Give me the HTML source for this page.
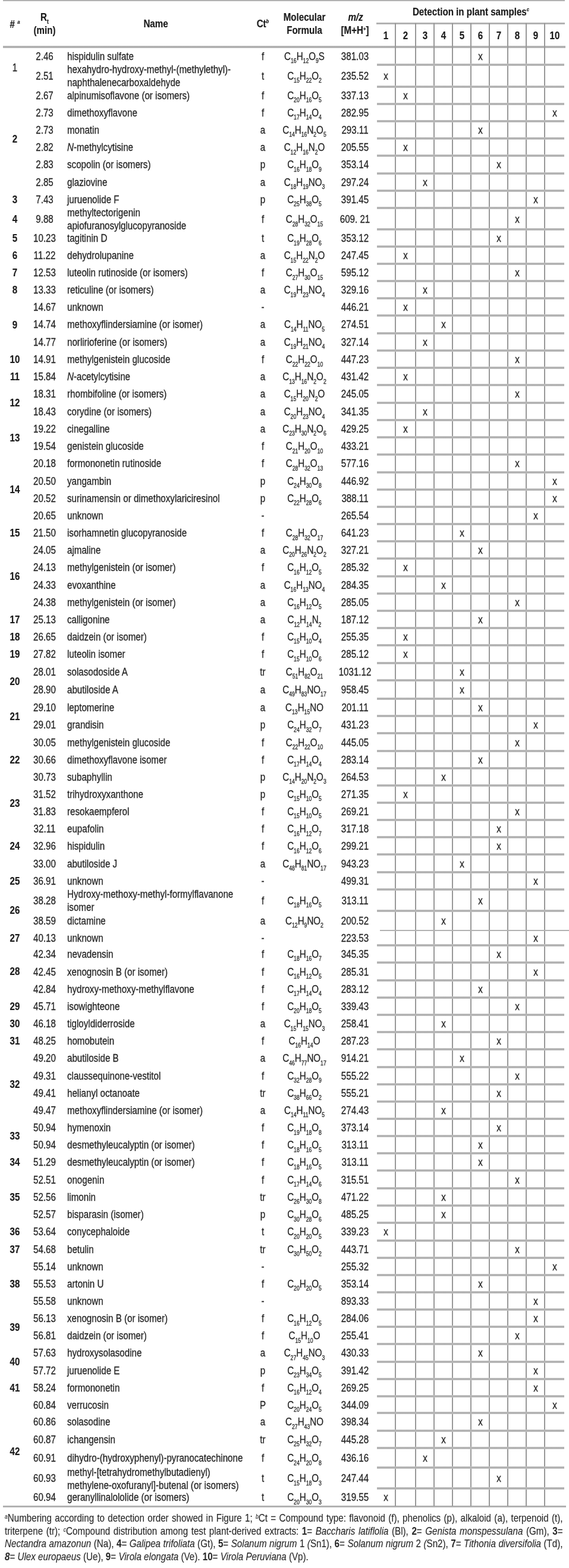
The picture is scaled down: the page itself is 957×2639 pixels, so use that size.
<!DOCTYPE html>
<html lang="en"><head><meta charset="utf-8"><title>Table</title>
<style>
html,body{margin:0;padding:0;background:#fff}
body{width:957px;height:2639px;position:relative;overflow:hidden;font-family:"Liberation Sans",sans-serif;font-size:17.5px;color:#262626;-webkit-text-stroke:0.3px #262626}
.l{position:absolute;background:#b2b2b2}
.h{left:634px;width:314.5px;height:4px;background:linear-gradient(#d2d2d2,#b0b0b0 26%,#b0b0b0 74%,#d2d2d2)}
.v{top:39px;width:2px;height:2496px;background:#989898}
.c,.n,.b{position:absolute;white-space:nowrap;transform:scaleX(0.865)}
.c{text-align:center;transform-origin:50% 50%;width:400px}
.n{text-align:left;transform-origin:0 50%}
.b{font-weight:bold;color:#1c1c1c;-webkit-text-stroke:0.2px #1c1c1c}
sub{font-size:10px;vertical-align:baseline;position:relative;top:5.5px;line-height:0}
sup{font-size:9px;vertical-align:baseline;position:relative;top:-7px;line-height:0;font-style:italic}
.fn{position:absolute;left:7.5px;top:2545px;width:1085.0px;transform:scaleX(0.865);transform-origin:0 0;text-align:justify;font-size:17.55px;line-height:21.7px;color:#2b2b2b;-webkit-text-stroke:0.15px #2b2b2b}
.fn sup{font-size:10px;top:-5px}
.fn div{white-space:nowrap}
.fn .j{text-align:justify;text-align-last:justify}
.fn .e{text-align:left}
.fn b{-webkit-text-stroke:0.1px #262626}
</style></head><body>
<div class="l" style="left:5px;top:0px;width:945px;height:2px"></div>
<div class="l" style="left:5px;top:77px;width:946px;height:4px;background:linear-gradient(#cfcfcf,#adadad 30%,#adadad 70%,#cfcfcf)"></div>
<div class="l" style="left:633px;top:38px;width:317px;height:3px"></div>
<div class="l" style="left:5px;top:2534px;width:947px;height:3px"></div>
<div class="l v" style="left:664px"></div>
<div class="l v" style="left:698px"></div>
<div class="l v" style="left:729px"></div>
<div class="l v" style="left:760px"></div>
<div class="l v" style="left:791px"></div>
<div class="l v" style="left:822px"></div>
<div class="l v" style="left:853px"></div>
<div class="l v" style="left:884px"></div>
<div class="l v" style="left:915px"></div>
<div class="l h" style="top:107px"></div>
<div class="l h" style="top:144px"></div>
<div class="l h" style="top:173px"></div>
<div class="l h" style="top:202px"></div>
<div class="l h" style="top:231px"></div>
<div class="l h" style="top:260px"></div>
<div class="l h" style="top:290px"></div>
<div class="l h" style="top:319px"></div>
<div class="l h" style="top:348px"></div>
<div class="l h" style="top:384px"></div>
<div class="l h" style="top:413px"></div>
<div class="l h" style="top:442px"></div>
<div class="l h" style="top:471px"></div>
<div class="l h" style="top:500px"></div>
<div class="l h" style="top:529px"></div>
<div class="l h" style="top:559px"></div>
<div class="l h" style="top:588px"></div>
<div class="l h" style="top:617px"></div>
<div class="l h" style="top:646px"></div>
<div class="l h" style="top:676px"></div>
<div class="l h" style="top:705px"></div>
<div class="l h" style="top:734px"></div>
<div class="l h" style="top:763px"></div>
<div class="l h" style="top:793px"></div>
<div class="l h" style="top:822px"></div>
<div class="l h" style="top:851px"></div>
<div class="l h" style="top:880px"></div>
<div class="l h" style="top:909px"></div>
<div class="l h" style="top:938px"></div>
<div class="l h" style="top:968px"></div>
<div class="l h" style="top:997px"></div>
<div class="l h" style="top:1026px"></div>
<div class="l h" style="top:1055px"></div>
<div class="l h" style="top:1084px"></div>
<div class="l h" style="top:1114px"></div>
<div class="l h" style="top:1143px"></div>
<div class="l h" style="top:1174px"></div>
<div class="l h" style="top:1203px"></div>
<div class="l h" style="top:1232px"></div>
<div class="l h" style="top:1262px"></div>
<div class="l h" style="top:1291px"></div>
<div class="l h" style="top:1320px"></div>
<div class="l h" style="top:1349px"></div>
<div class="l h" style="top:1378px"></div>
<div class="l h" style="top:1407px"></div>
<div class="l h" style="top:1436px"></div>
<div class="l h" style="top:1466px"></div>
<div class="l h" style="top:1495px"></div>
<div class="l h" style="top:1531px"></div>
<div class="l" style="left:639px;top:1565px;width:318px;height:2px"></div>
<div class="l h" style="top:1589px"></div>
<div class="l h" style="top:1618px"></div>
<div class="l h" style="top:1648px"></div>
<div class="l h" style="top:1677px"></div>
<div class="l h" style="top:1706px"></div>
<div class="l h" style="top:1735px"></div>
<div class="l h" style="top:1764px"></div>
<div class="l h" style="top:1794px"></div>
<div class="l h" style="top:1823px"></div>
<div class="l h" style="top:1852px"></div>
<div class="l h" style="top:1881px"></div>
<div class="l h" style="top:1910px"></div>
<div class="l h" style="top:1939px"></div>
<div class="l h" style="top:1968px"></div>
<div class="l h" style="top:1998px"></div>
<div class="l h" style="top:2027px"></div>
<div class="l h" style="top:2056px"></div>
<div class="l h" style="top:2086px"></div>
<div class="l h" style="top:2115px"></div>
<div class="l h" style="top:2144px"></div>
<div class="l h" style="top:2173px"></div>
<div class="l h" style="top:2202px"></div>
<div class="l h" style="top:2231px"></div>
<div class="l h" style="top:2260px"></div>
<div class="l h" style="top:2290px"></div>
<div class="l h" style="top:2319px"></div>
<div class="l h" style="top:2348px"></div>
<div class="l h" style="top:2376px"></div>
<div class="l h" style="top:2406px"></div>
<div class="l h" style="top:2435px"></div>
<div class="l h" style="top:2468px"></div>
<div class="l h" style="top:2503px"></div>
<div class="c b" style="left:-175.5px;top:30px;height:22px;line-height:22px"># <sup>a</sup></div>
<div class="c b" style="left:-125px;top:17.7px;height:22px;line-height:22px">R<sub>t</sub></div>
<div class="c b" style="left:-125px;top:39.8px;height:22px;line-height:22px">(min)</div>
<div class="c b" style="left:62px;top:29px;height:22px;line-height:22px">Name</div>
<div class="c b" style="left:242px;top:29px;height:22px;line-height:22px">Ct<sup>b</sup></div>
<div class="c b" style="left:312px;top:18px;height:22px;line-height:22px">Molecular</div>
<div class="c b" style="left:312px;top:39.7px;height:22px;line-height:22px">Formula</div>
<div class="c b" style="left:398px;top:18px;height:22px;line-height:22px"><i>m/z</i></div>
<div class="c b" style="left:397px;top:40px;height:22px;line-height:22px">[M+H<sup style="font-style:normal;font-weight:bold;top:-5px;font-size:9px">+</sup>]</div>
<div class="c b" style="left:592px;top:9px;height:22px;line-height:22px">Detection in plant samples<sup>c</sup></div>
<div class="c b" style="left:449px;top:48.7px;height:22px;line-height:22px">1</div>
<div class="c b" style="left:482.2px;top:48.7px;height:22px;line-height:22px">2</div>
<div class="c b" style="left:514.9px;top:48.7px;height:22px;line-height:22px">3</div>
<div class="c b" style="left:545.95px;top:48.7px;height:22px;line-height:22px">4</div>
<div class="c b" style="left:576.95px;top:48.7px;height:22px;line-height:22px">5</div>
<div class="c b" style="left:607.9px;top:48.7px;height:22px;line-height:22px">6</div>
<div class="c b" style="left:638.85px;top:48.7px;height:22px;line-height:22px">7</div>
<div class="c b" style="left:669.65px;top:48.7px;height:22px;line-height:22px">8</div>
<div class="c b" style="left:700.5px;top:48.7px;height:22px;line-height:22px">9</div>
<div class="c b" style="left:733px;top:48.7px;height:22px;line-height:22px">10</div>
<div class="c" style="left:-125.5px;top:79.8px;height:30px;line-height:30px">2.46</div>
<div class="n" style="left:113px;top:79.8px;height:30px;line-height:30px">hispidulin sulfate</div>
<div class="c" style="left:241.5px;top:79.8px;height:30px;line-height:30px">f</div>
<div class="c" style="left:312px;top:79.8px;height:30px;line-height:30px">C<sub>16</sub>H<sub>12</sub>O<sub>9</sub>S</div>
<div class="c" style="left:397px;top:79.8px;height:30px;line-height:30px">381.03</div>
<div class="c" style="left:607.9px;top:79.8px;height:30px;line-height:30px">x</div>
<div class="c" style="left:-125.5px;top:109.8px;height:36.9px;line-height:36.9px">2.51</div>
<div class="n" style="left:113px;top:107.45px;height:43.6px;line-height:21.8px">hexahydro-hydroxy-methyl-(methylethyl)-<br>naphthalenecarboxaldehyde</div>
<div class="c" style="left:241.5px;top:109.8px;height:36.9px;line-height:36.9px">t</div>
<div class="c" style="left:312px;top:109.8px;height:36.9px;line-height:36.9px">C<sub>15</sub>H<sub>22</sub>O<sub>2</sub></div>
<div class="c" style="left:397px;top:109.8px;height:36.9px;line-height:36.9px">235.52</div>
<div class="c" style="left:449px;top:109.8px;height:36.9px;line-height:36.9px">x</div>
<div class="c" style="left:-125.5px;top:146.7px;height:28.9px;line-height:28.9px">2.67</div>
<div class="n" style="left:113px;top:146.7px;height:28.9px;line-height:28.9px">alpinumisoflavone (or isomers)</div>
<div class="c" style="left:241.5px;top:146.7px;height:28.9px;line-height:28.9px">f</div>
<div class="c" style="left:312px;top:146.7px;height:28.9px;line-height:28.9px">C<sub>20</sub>H<sub>16</sub>O<sub>5</sub></div>
<div class="c" style="left:397px;top:146.7px;height:28.9px;line-height:28.9px">337.13</div>
<div class="c" style="left:482.2px;top:146.7px;height:28.9px;line-height:28.9px">x</div>
<div class="c" style="left:-125.5px;top:175.6px;height:28.9px;line-height:28.9px">2.73</div>
<div class="n" style="left:113px;top:175.6px;height:28.9px;line-height:28.9px">dimethoxyflavone</div>
<div class="c" style="left:241.5px;top:175.6px;height:28.9px;line-height:28.9px">f</div>
<div class="c" style="left:312px;top:175.6px;height:28.9px;line-height:28.9px">C<sub>17</sub>H<sub>14</sub>O<sub>4</sub></div>
<div class="c" style="left:397px;top:175.6px;height:28.9px;line-height:28.9px">282.95</div>
<div class="c" style="left:733px;top:175.6px;height:28.9px;line-height:28.9px">x</div>
<div class="c" style="left:-125.5px;top:204.5px;height:29.5px;line-height:29.5px">2.73</div>
<div class="n" style="left:113px;top:204.5px;height:29.5px;line-height:29.5px">monatin</div>
<div class="c" style="left:241.5px;top:204.5px;height:29.5px;line-height:29.5px">a</div>
<div class="c" style="left:312px;top:204.5px;height:29.5px;line-height:29.5px">C<sub>14</sub>H<sub>16</sub>N<sub>2</sub>O<sub>5</sub></div>
<div class="c" style="left:397px;top:204.5px;height:29.5px;line-height:29.5px">293.11</div>
<div class="c" style="left:607.9px;top:204.5px;height:29.5px;line-height:29.5px">x</div>
<div class="c" style="left:-125.5px;top:234px;height:29.4px;line-height:29.4px">2.82</div>
<div class="n" style="left:113px;top:234px;height:29.4px;line-height:29.4px"><i>N</i>-methylcytisine</div>
<div class="c" style="left:241.5px;top:234px;height:29.4px;line-height:29.4px">a</div>
<div class="c" style="left:312px;top:234px;height:29.4px;line-height:29.4px">C<sub>12</sub>H<sub>16</sub>N<sub>2</sub>O</div>
<div class="c" style="left:397px;top:234px;height:29.4px;line-height:29.4px">205.55</div>
<div class="c" style="left:482.2px;top:234px;height:29.4px;line-height:29.4px">x</div>
<div class="c" style="left:-125.5px;top:263.4px;height:29.3px;line-height:29.3px">2.83</div>
<div class="n" style="left:113px;top:263.4px;height:29.3px;line-height:29.3px">scopolin (or isomers)</div>
<div class="c" style="left:241.5px;top:263.4px;height:29.3px;line-height:29.3px">p</div>
<div class="c" style="left:312px;top:263.4px;height:29.3px;line-height:29.3px">C<sub>16</sub>H<sub>18</sub>O<sub>9</sub></div>
<div class="c" style="left:397px;top:263.4px;height:29.3px;line-height:29.3px">353.14</div>
<div class="c" style="left:638.85px;top:263.4px;height:29.3px;line-height:29.3px">x</div>
<div class="c" style="left:-125.5px;top:292.7px;height:29.1px;line-height:29.1px">2.85</div>
<div class="n" style="left:113px;top:292.7px;height:29.1px;line-height:29.1px">glaziovine</div>
<div class="c" style="left:241.5px;top:292.7px;height:29.1px;line-height:29.1px">a</div>
<div class="c" style="left:312px;top:292.7px;height:29.1px;line-height:29.1px">C<sub>18</sub>H<sub>19</sub>NO<sub>3</sub></div>
<div class="c" style="left:397px;top:292.7px;height:29.1px;line-height:29.1px">297.24</div>
<div class="c" style="left:514.9px;top:292.7px;height:29.1px;line-height:29.1px">x</div>
<div class="c" style="left:-125.5px;top:321.8px;height:29.3px;line-height:29.3px">7.43</div>
<div class="n" style="left:113px;top:321.8px;height:29.3px;line-height:29.3px">juruenolide F</div>
<div class="c" style="left:241.5px;top:321.8px;height:29.3px;line-height:29.3px">p</div>
<div class="c" style="left:312px;top:321.8px;height:29.3px;line-height:29.3px">C<sub>25</sub>H<sub>38</sub>O<sub>5</sub></div>
<div class="c" style="left:397px;top:321.8px;height:29.3px;line-height:29.3px">391.45</div>
<div class="c" style="left:700.5px;top:321.8px;height:29.3px;line-height:29.3px">x</div>
<div class="c" style="left:-125.5px;top:351.1px;height:36px;line-height:36px">9.88</div>
<div class="n" style="left:113px;top:348.3px;height:43.6px;line-height:21.8px">methyltectorigenin<br>apiofuranosylglucopyranoside</div>
<div class="c" style="left:241.5px;top:351.1px;height:36px;line-height:36px">f</div>
<div class="c" style="left:312px;top:351.1px;height:36px;line-height:36px">C<sub>28</sub>H<sub>32</sub>O<sub>15</sub></div>
<div class="c" style="left:397px;top:351.1px;height:36px;line-height:36px">609. 21</div>
<div class="c" style="left:669.65px;top:351.1px;height:36px;line-height:36px">x</div>
<div class="c" style="left:-125.5px;top:387.1px;height:28.9px;line-height:28.9px">10.23</div>
<div class="n" style="left:113px;top:387.1px;height:28.9px;line-height:28.9px">tagitinin D</div>
<div class="c" style="left:241.5px;top:387.1px;height:28.9px;line-height:28.9px">t</div>
<div class="c" style="left:312px;top:387.1px;height:28.9px;line-height:28.9px">C<sub>19</sub>H<sub>28</sub>O<sub>6</sub></div>
<div class="c" style="left:397px;top:387.1px;height:28.9px;line-height:28.9px">353.12</div>
<div class="c" style="left:638.85px;top:387.1px;height:28.9px;line-height:28.9px">x</div>
<div class="c" style="left:-125.5px;top:416px;height:29px;line-height:29px">11.22</div>
<div class="n" style="left:113px;top:416px;height:29px;line-height:29px">dehydrolupanine</div>
<div class="c" style="left:241.5px;top:416px;height:29px;line-height:29px">a</div>
<div class="c" style="left:312px;top:416px;height:29px;line-height:29px">C<sub>15</sub>H<sub>22</sub>N<sub>2</sub>O</div>
<div class="c" style="left:397px;top:416px;height:29px;line-height:29px">247.45</div>
<div class="c" style="left:482.2px;top:416px;height:29px;line-height:29px">x</div>
<div class="c" style="left:-125.5px;top:445px;height:29.3px;line-height:29.3px">12.53</div>
<div class="n" style="left:113px;top:445px;height:29.3px;line-height:29.3px">luteolin rutinoside (or isomers)</div>
<div class="c" style="left:241.5px;top:445px;height:29.3px;line-height:29.3px">f</div>
<div class="c" style="left:312px;top:445px;height:29.3px;line-height:29.3px">C<sub>27</sub>H<sub>30</sub>O<sub>15</sub></div>
<div class="c" style="left:397px;top:445px;height:29.3px;line-height:29.3px">595.12</div>
<div class="c" style="left:669.65px;top:445px;height:29.3px;line-height:29.3px">x</div>
<div class="c" style="left:-125.5px;top:474.3px;height:28.9px;line-height:28.9px">13.33</div>
<div class="n" style="left:113px;top:474.3px;height:28.9px;line-height:28.9px">reticuline (or isomers)</div>
<div class="c" style="left:241.5px;top:474.3px;height:28.9px;line-height:28.9px">a</div>
<div class="c" style="left:312px;top:474.3px;height:28.9px;line-height:28.9px">C<sub>19</sub>H<sub>23</sub>NO<sub>4</sub></div>
<div class="c" style="left:397px;top:474.3px;height:28.9px;line-height:28.9px">329.16</div>
<div class="c" style="left:514.9px;top:474.3px;height:28.9px;line-height:28.9px">x</div>
<div class="c" style="left:-125.5px;top:503.2px;height:29.1px;line-height:29.1px">14.67</div>
<div class="n" style="left:113px;top:503.2px;height:29.1px;line-height:29.1px">unknown</div>
<div class="c" style="left:241.5px;top:503.2px;height:29.1px;line-height:29.1px">-</div>
<div class="c" style="left:397px;top:503.2px;height:29.1px;line-height:29.1px">446.21</div>
<div class="c" style="left:482.2px;top:503.2px;height:29.1px;line-height:29.1px">x</div>
<div class="c" style="left:-125.5px;top:532.3px;height:29.3px;line-height:29.3px">14.74</div>
<div class="n" style="left:113px;top:532.3px;height:29.3px;line-height:29.3px">methoxyflindersiamine (or isomer)</div>
<div class="c" style="left:241.5px;top:532.3px;height:29.3px;line-height:29.3px">a</div>
<div class="c" style="left:312px;top:532.3px;height:29.3px;line-height:29.3px">C<sub>14</sub>H<sub>11</sub>NO<sub>5</sub></div>
<div class="c" style="left:397px;top:532.3px;height:29.3px;line-height:29.3px">274.51</div>
<div class="c" style="left:545.95px;top:532.3px;height:29.3px;line-height:29.3px">x</div>
<div class="c" style="left:-125.5px;top:561.6px;height:29.6px;line-height:29.6px">14.77</div>
<div class="n" style="left:113px;top:561.6px;height:29.6px;line-height:29.6px">norlirioferine (or isomers)</div>
<div class="c" style="left:241.5px;top:561.6px;height:29.6px;line-height:29.6px">a</div>
<div class="c" style="left:312px;top:561.6px;height:29.6px;line-height:29.6px">C<sub>19</sub>H<sub>21</sub>NO<sub>4</sub></div>
<div class="c" style="left:397px;top:561.6px;height:29.6px;line-height:29.6px">327.14</div>
<div class="c" style="left:514.9px;top:561.6px;height:29.6px;line-height:29.6px">x</div>
<div class="c" style="left:-125.5px;top:591.2px;height:28.9px;line-height:28.9px">14.91</div>
<div class="n" style="left:113px;top:591.2px;height:28.9px;line-height:28.9px">methylgenistein glucoside</div>
<div class="c" style="left:241.5px;top:591.2px;height:28.9px;line-height:28.9px">f</div>
<div class="c" style="left:312px;top:591.2px;height:28.9px;line-height:28.9px">C<sub>22</sub>H<sub>22</sub>O<sub>10</sub></div>
<div class="c" style="left:397px;top:591.2px;height:28.9px;line-height:28.9px">447.23</div>
<div class="c" style="left:669.65px;top:591.2px;height:28.9px;line-height:28.9px">x</div>
<div class="c" style="left:-125.5px;top:620.1px;height:29.3px;line-height:29.3px">15.84</div>
<div class="n" style="left:113px;top:620.1px;height:29.3px;line-height:29.3px"><i>N</i>-acetylcytisine</div>
<div class="c" style="left:241.5px;top:620.1px;height:29.3px;line-height:29.3px">a</div>
<div class="c" style="left:312px;top:620.1px;height:29.3px;line-height:29.3px">C<sub>13</sub>H<sub>16</sub>N<sub>2</sub>O<sub>2</sub></div>
<div class="c" style="left:397px;top:620.1px;height:29.3px;line-height:29.3px">431.42</div>
<div class="c" style="left:482.2px;top:620.1px;height:29.3px;line-height:29.3px">x</div>
<div class="c" style="left:-125.5px;top:649.4px;height:29.6px;line-height:29.6px">18.31</div>
<div class="n" style="left:113px;top:649.4px;height:29.6px;line-height:29.6px">rhombifoline (or isomers)</div>
<div class="c" style="left:241.5px;top:649.4px;height:29.6px;line-height:29.6px">a</div>
<div class="c" style="left:312px;top:649.4px;height:29.6px;line-height:29.6px">C<sub>15</sub>H<sub>20</sub>N<sub>2</sub>O</div>
<div class="c" style="left:397px;top:649.4px;height:29.6px;line-height:29.6px">245.05</div>
<div class="c" style="left:669.65px;top:649.4px;height:29.6px;line-height:29.6px">x</div>
<div class="c" style="left:-125.5px;top:679px;height:28.9px;line-height:28.9px">18.43</div>
<div class="n" style="left:113px;top:679px;height:28.9px;line-height:28.9px">corydine (or isomers)</div>
<div class="c" style="left:241.5px;top:679px;height:28.9px;line-height:28.9px">a</div>
<div class="c" style="left:312px;top:679px;height:28.9px;line-height:28.9px">C<sub>20</sub>H<sub>23</sub>NO<sub>4</sub></div>
<div class="c" style="left:397px;top:679px;height:28.9px;line-height:28.9px">341.35</div>
<div class="c" style="left:514.9px;top:679px;height:28.9px;line-height:28.9px">x</div>
<div class="c" style="left:-125.5px;top:707.9px;height:29.3px;line-height:29.3px">19.22</div>
<div class="n" style="left:113px;top:707.9px;height:29.3px;line-height:29.3px">cinegalline</div>
<div class="c" style="left:241.5px;top:707.9px;height:29.3px;line-height:29.3px">a</div>
<div class="c" style="left:312px;top:707.9px;height:29.3px;line-height:29.3px">C<sub>23</sub>H<sub>30</sub>N<sub>2</sub>O<sub>6</sub></div>
<div class="c" style="left:397px;top:707.9px;height:29.3px;line-height:29.3px">429.25</div>
<div class="c" style="left:482.2px;top:707.9px;height:29.3px;line-height:29.3px">x</div>
<div class="c" style="left:-125.5px;top:737.2px;height:28.9px;line-height:28.9px">19.54</div>
<div class="n" style="left:113px;top:737.2px;height:28.9px;line-height:28.9px">genistein glucoside</div>
<div class="c" style="left:241.5px;top:737.2px;height:28.9px;line-height:28.9px">f</div>
<div class="c" style="left:312px;top:737.2px;height:28.9px;line-height:28.9px">C<sub>21</sub>H<sub>20</sub>O<sub>10</sub></div>
<div class="c" style="left:397px;top:737.2px;height:28.9px;line-height:28.9px">433.21</div>
<div class="c" style="left:-125.5px;top:766.1px;height:29.6px;line-height:29.6px">20.18</div>
<div class="n" style="left:113px;top:766.1px;height:29.6px;line-height:29.6px">formononetin rutinoside</div>
<div class="c" style="left:241.5px;top:766.1px;height:29.6px;line-height:29.6px">f</div>
<div class="c" style="left:312px;top:766.1px;height:29.6px;line-height:29.6px">C<sub>28</sub>H<sub>32</sub>O<sub>13</sub></div>
<div class="c" style="left:397px;top:766.1px;height:29.6px;line-height:29.6px">577.16</div>
<div class="c" style="left:669.65px;top:766.1px;height:29.6px;line-height:29.6px">x</div>
<div class="c" style="left:-125.5px;top:795.7px;height:28.9px;line-height:28.9px">20.50</div>
<div class="n" style="left:113px;top:795.7px;height:28.9px;line-height:28.9px">yangambin</div>
<div class="c" style="left:241.5px;top:795.7px;height:28.9px;line-height:28.9px">p</div>
<div class="c" style="left:312px;top:795.7px;height:28.9px;line-height:28.9px">C<sub>24</sub>H<sub>30</sub>O<sub>8</sub></div>
<div class="c" style="left:397px;top:795.7px;height:28.9px;line-height:28.9px">446.92</div>
<div class="c" style="left:733px;top:795.7px;height:28.9px;line-height:28.9px">x</div>
<div class="c" style="left:-125.5px;top:824.6px;height:29.3px;line-height:29.3px">20.52</div>
<div class="n" style="left:113px;top:824.6px;height:29.3px;line-height:29.3px">surinamensin or dimethoxylariciresinol</div>
<div class="c" style="left:241.5px;top:824.6px;height:29.3px;line-height:29.3px">p</div>
<div class="c" style="left:312px;top:824.6px;height:29.3px;line-height:29.3px">C<sub>22</sub>H<sub>28</sub>O<sub>6</sub></div>
<div class="c" style="left:397px;top:824.6px;height:29.3px;line-height:29.3px">388.11</div>
<div class="c" style="left:733px;top:824.6px;height:29.3px;line-height:29.3px">x</div>
<div class="c" style="left:-125.5px;top:853.9px;height:29.1px;line-height:29.1px">20.65</div>
<div class="n" style="left:113px;top:853.9px;height:29.1px;line-height:29.1px">unknown</div>
<div class="c" style="left:241.5px;top:853.9px;height:29.1px;line-height:29.1px">-</div>
<div class="c" style="left:397px;top:853.9px;height:29.1px;line-height:29.1px">265.54</div>
<div class="c" style="left:700.5px;top:853.9px;height:29.1px;line-height:29.1px">x</div>
<div class="c" style="left:-125.5px;top:883px;height:28.7px;line-height:28.7px">21.50</div>
<div class="n" style="left:113px;top:883px;height:28.7px;line-height:28.7px">isorhamnetin glucopyranoside</div>
<div class="c" style="left:241.5px;top:883px;height:28.7px;line-height:28.7px">f</div>
<div class="c" style="left:312px;top:883px;height:28.7px;line-height:28.7px">C<sub>28</sub>H<sub>32</sub>O<sub>17</sub></div>
<div class="c" style="left:397px;top:883px;height:28.7px;line-height:28.7px">641.23</div>
<div class="c" style="left:576.95px;top:883px;height:28.7px;line-height:28.7px">x</div>
<div class="c" style="left:-125.5px;top:911.7px;height:29.5px;line-height:29.5px">24.05</div>
<div class="n" style="left:113px;top:911.7px;height:29.5px;line-height:29.5px">ajmaline</div>
<div class="c" style="left:241.5px;top:911.7px;height:29.5px;line-height:29.5px">a</div>
<div class="c" style="left:312px;top:911.7px;height:29.5px;line-height:29.5px">C<sub>20</sub>H<sub>26</sub>N<sub>2</sub>O<sub>2</sub></div>
<div class="c" style="left:397px;top:911.7px;height:29.5px;line-height:29.5px">327.21</div>
<div class="c" style="left:607.9px;top:911.7px;height:29.5px;line-height:29.5px">x</div>
<div class="c" style="left:-125.5px;top:941.2px;height:29.4px;line-height:29.4px">24.13</div>
<div class="n" style="left:113px;top:941.2px;height:29.4px;line-height:29.4px">methylgenistein (or isomer)</div>
<div class="c" style="left:241.5px;top:941.2px;height:29.4px;line-height:29.4px">f</div>
<div class="c" style="left:312px;top:941.2px;height:29.4px;line-height:29.4px">C<sub>16</sub>H<sub>12</sub>O<sub>5</sub></div>
<div class="c" style="left:397px;top:941.2px;height:29.4px;line-height:29.4px">285.32</div>
<div class="c" style="left:482.2px;top:941.2px;height:29.4px;line-height:29.4px">x</div>
<div class="c" style="left:-125.5px;top:970.6px;height:29.3px;line-height:29.3px">24.33</div>
<div class="n" style="left:113px;top:970.6px;height:29.3px;line-height:29.3px">evoxanthine</div>
<div class="c" style="left:241.5px;top:970.6px;height:29.3px;line-height:29.3px">a</div>
<div class="c" style="left:312px;top:970.6px;height:29.3px;line-height:29.3px">C<sub>16</sub>H<sub>13</sub>NO<sub>4</sub></div>
<div class="c" style="left:397px;top:970.6px;height:29.3px;line-height:29.3px">284.35</div>
<div class="c" style="left:545.95px;top:970.6px;height:29.3px;line-height:29.3px">x</div>
<div class="c" style="left:-125.5px;top:999.9px;height:29.1px;line-height:29.1px">24.38</div>
<div class="n" style="left:113px;top:999.9px;height:29.1px;line-height:29.1px">methylgenistein (or isomer)</div>
<div class="c" style="left:241.5px;top:999.9px;height:29.1px;line-height:29.1px">a</div>
<div class="c" style="left:312px;top:999.9px;height:29.1px;line-height:29.1px">C<sub>16</sub>H<sub>12</sub>O<sub>5</sub></div>
<div class="c" style="left:397px;top:999.9px;height:29.1px;line-height:29.1px">285.05</div>
<div class="c" style="left:669.65px;top:999.9px;height:29.1px;line-height:29.1px">x</div>
<div class="c" style="left:-125.5px;top:1029px;height:28.9px;line-height:28.9px">25.13</div>
<div class="n" style="left:113px;top:1029px;height:28.9px;line-height:28.9px">calligonine</div>
<div class="c" style="left:241.5px;top:1029px;height:28.9px;line-height:28.9px">a</div>
<div class="c" style="left:312px;top:1029px;height:28.9px;line-height:28.9px">C<sub>12</sub>H<sub>14</sub>N<sub>2</sub></div>
<div class="c" style="left:397px;top:1029px;height:28.9px;line-height:28.9px">187.12</div>
<div class="c" style="left:607.9px;top:1029px;height:28.9px;line-height:28.9px">x</div>
<div class="c" style="left:-125.5px;top:1057.9px;height:29.4px;line-height:29.4px">26.65</div>
<div class="n" style="left:113px;top:1057.9px;height:29.4px;line-height:29.4px">daidzein (or isomer)</div>
<div class="c" style="left:241.5px;top:1057.9px;height:29.4px;line-height:29.4px">f</div>
<div class="c" style="left:312px;top:1057.9px;height:29.4px;line-height:29.4px">C<sub>15</sub>H<sub>10</sub>O<sub>4</sub></div>
<div class="c" style="left:397px;top:1057.9px;height:29.4px;line-height:29.4px">255.35</div>
<div class="c" style="left:482.2px;top:1057.9px;height:29.4px;line-height:29.4px">x</div>
<div class="c" style="left:-125.5px;top:1087.3px;height:29.3px;line-height:29.3px">27.82</div>
<div class="n" style="left:113px;top:1087.3px;height:29.3px;line-height:29.3px">luteolin isomer</div>
<div class="c" style="left:241.5px;top:1087.3px;height:29.3px;line-height:29.3px">f</div>
<div class="c" style="left:312px;top:1087.3px;height:29.3px;line-height:29.3px">C<sub>15</sub>H<sub>10</sub>O<sub>6</sub></div>
<div class="c" style="left:397px;top:1087.3px;height:29.3px;line-height:29.3px">285.12</div>
<div class="c" style="left:482.2px;top:1087.3px;height:29.3px;line-height:29.3px">x</div>
<div class="c" style="left:-125.5px;top:1116.6px;height:29.1px;line-height:29.1px">28.01</div>
<div class="n" style="left:113px;top:1116.6px;height:29.1px;line-height:29.1px">solasodoside A</div>
<div class="c" style="left:241.5px;top:1116.6px;height:29.1px;line-height:29.1px">tr</div>
<div class="c" style="left:312px;top:1116.6px;height:29.1px;line-height:29.1px">C<sub>51</sub>H<sub>82</sub>O<sub>21</sub></div>
<div class="c" style="left:397px;top:1116.6px;height:29.1px;line-height:29.1px">1031.12</div>
<div class="c" style="left:576.95px;top:1116.6px;height:29.1px;line-height:29.1px">x</div>
<div class="c" style="left:-125.5px;top:1145.7px;height:31.1px;line-height:31.1px">28.90</div>
<div class="n" style="left:113px;top:1145.7px;height:31.1px;line-height:31.1px">abutiloside A</div>
<div class="c" style="left:241.5px;top:1145.7px;height:31.1px;line-height:31.1px">a</div>
<div class="c" style="left:312px;top:1145.7px;height:31.1px;line-height:31.1px">C<sub>49</sub>H<sub>83</sub>NO<sub>17</sub></div>
<div class="c" style="left:397px;top:1145.7px;height:31.1px;line-height:31.1px">958.45</div>
<div class="c" style="left:576.95px;top:1145.7px;height:31.1px;line-height:31.1px">x</div>
<div class="c" style="left:-125.5px;top:1176.8px;height:29.3px;line-height:29.3px">29.10</div>
<div class="n" style="left:113px;top:1176.8px;height:29.3px;line-height:29.3px">leptomerine</div>
<div class="c" style="left:241.5px;top:1176.8px;height:29.3px;line-height:29.3px">a</div>
<div class="c" style="left:312px;top:1176.8px;height:29.3px;line-height:29.3px">C<sub>13</sub>H<sub>15</sub>NO</div>
<div class="c" style="left:397px;top:1176.8px;height:29.3px;line-height:29.3px">201.11</div>
<div class="c" style="left:607.9px;top:1176.8px;height:29.3px;line-height:29.3px">x</div>
<div class="c" style="left:-125.5px;top:1206.1px;height:29.4px;line-height:29.4px">29.01</div>
<div class="n" style="left:113px;top:1206.1px;height:29.4px;line-height:29.4px">grandisin</div>
<div class="c" style="left:241.5px;top:1206.1px;height:29.4px;line-height:29.4px">p</div>
<div class="c" style="left:312px;top:1206.1px;height:29.4px;line-height:29.4px">C<sub>24</sub>H<sub>32</sub>O<sub>7</sub></div>
<div class="c" style="left:397px;top:1206.1px;height:29.4px;line-height:29.4px">431.23</div>
<div class="c" style="left:700.5px;top:1206.1px;height:29.4px;line-height:29.4px">x</div>
<div class="c" style="left:-125.5px;top:1235.5px;height:29.1px;line-height:29.1px">30.05</div>
<div class="n" style="left:113px;top:1235.5px;height:29.1px;line-height:29.1px">methylgenistein glucoside</div>
<div class="c" style="left:241.5px;top:1235.5px;height:29.1px;line-height:29.1px">f</div>
<div class="c" style="left:312px;top:1235.5px;height:29.1px;line-height:29.1px">C<sub>22</sub>H<sub>22</sub>O<sub>10</sub></div>
<div class="c" style="left:397px;top:1235.5px;height:29.1px;line-height:29.1px">445.05</div>
<div class="c" style="left:669.65px;top:1235.5px;height:29.1px;line-height:29.1px">x</div>
<div class="c" style="left:-125.5px;top:1264.6px;height:29px;line-height:29px">30.66</div>
<div class="n" style="left:113px;top:1264.6px;height:29px;line-height:29px">dimethoxyflavone isomer</div>
<div class="c" style="left:241.5px;top:1264.6px;height:29px;line-height:29px">f</div>
<div class="c" style="left:312px;top:1264.6px;height:29px;line-height:29px">C<sub>17</sub>H<sub>14</sub>O<sub>4</sub></div>
<div class="c" style="left:397px;top:1264.6px;height:29px;line-height:29px">283.14</div>
<div class="c" style="left:607.9px;top:1264.6px;height:29px;line-height:29px">x</div>
<div class="c" style="left:-125.5px;top:1293.6px;height:29.2px;line-height:29.2px">30.73</div>
<div class="n" style="left:113px;top:1293.6px;height:29.2px;line-height:29.2px">subaphyllin</div>
<div class="c" style="left:241.5px;top:1293.6px;height:29.2px;line-height:29.2px">p</div>
<div class="c" style="left:312px;top:1293.6px;height:29.2px;line-height:29.2px">C<sub>14</sub>H<sub>20</sub>N<sub>2</sub>O<sub>3</sub></div>
<div class="c" style="left:397px;top:1293.6px;height:29.2px;line-height:29.2px">264.53</div>
<div class="c" style="left:545.95px;top:1293.6px;height:29.2px;line-height:29.2px">x</div>
<div class="c" style="left:-125.5px;top:1322.8px;height:28.9px;line-height:28.9px">31.52</div>
<div class="n" style="left:113px;top:1322.8px;height:28.9px;line-height:28.9px">trihydroxyxanthone</div>
<div class="c" style="left:241.5px;top:1322.8px;height:28.9px;line-height:28.9px">p</div>
<div class="c" style="left:312px;top:1322.8px;height:28.9px;line-height:28.9px">C<sub>15</sub>H<sub>10</sub>O<sub>5</sub></div>
<div class="c" style="left:397px;top:1322.8px;height:28.9px;line-height:28.9px">271.35</div>
<div class="c" style="left:482.2px;top:1322.8px;height:28.9px;line-height:28.9px">x</div>
<div class="c" style="left:-125.5px;top:1351.7px;height:29.3px;line-height:29.3px">31.83</div>
<div class="n" style="left:113px;top:1351.7px;height:29.3px;line-height:29.3px">resokaempferol</div>
<div class="c" style="left:241.5px;top:1351.7px;height:29.3px;line-height:29.3px">f</div>
<div class="c" style="left:312px;top:1351.7px;height:29.3px;line-height:29.3px">C<sub>15</sub>H<sub>10</sub>O<sub>5</sub></div>
<div class="c" style="left:397px;top:1351.7px;height:29.3px;line-height:29.3px">269.21</div>
<div class="c" style="left:669.65px;top:1351.7px;height:29.3px;line-height:29.3px">x</div>
<div class="c" style="left:-125.5px;top:1381px;height:29.1px;line-height:29.1px">32.11</div>
<div class="n" style="left:113px;top:1381px;height:29.1px;line-height:29.1px">eupafolin</div>
<div class="c" style="left:241.5px;top:1381px;height:29.1px;line-height:29.1px">f</div>
<div class="c" style="left:312px;top:1381px;height:29.1px;line-height:29.1px">C<sub>16</sub>H<sub>12</sub>O<sub>7</sub></div>
<div class="c" style="left:397px;top:1381px;height:29.1px;line-height:29.1px">317.18</div>
<div class="c" style="left:638.85px;top:1381px;height:29.1px;line-height:29.1px">x</div>
<div class="c" style="left:-125.5px;top:1410.1px;height:29.4px;line-height:29.4px">32.96</div>
<div class="n" style="left:113px;top:1410.1px;height:29.4px;line-height:29.4px">hispidulin</div>
<div class="c" style="left:241.5px;top:1410.1px;height:29.4px;line-height:29.4px">f</div>
<div class="c" style="left:312px;top:1410.1px;height:29.4px;line-height:29.4px">C<sub>16</sub>H<sub>12</sub>O<sub>6</sub></div>
<div class="c" style="left:397px;top:1410.1px;height:29.4px;line-height:29.4px">299.21</div>
<div class="c" style="left:638.85px;top:1410.1px;height:29.4px;line-height:29.4px">x</div>
<div class="c" style="left:-125.5px;top:1439.5px;height:29.3px;line-height:29.3px">33.00</div>
<div class="n" style="left:113px;top:1439.5px;height:29.3px;line-height:29.3px">abutiloside J</div>
<div class="c" style="left:241.5px;top:1439.5px;height:29.3px;line-height:29.3px">a</div>
<div class="c" style="left:312px;top:1439.5px;height:29.3px;line-height:29.3px">C<sub>48</sub>H<sub>81</sub>NO<sub>17</sub></div>
<div class="c" style="left:397px;top:1439.5px;height:29.3px;line-height:29.3px">943.23</div>
<div class="c" style="left:576.95px;top:1439.5px;height:29.3px;line-height:29.3px">x</div>
<div class="c" style="left:-125.5px;top:1468.8px;height:28.9px;line-height:28.9px">36.91</div>
<div class="n" style="left:113px;top:1468.8px;height:28.9px;line-height:28.9px">unknown</div>
<div class="c" style="left:241.5px;top:1468.8px;height:28.9px;line-height:28.9px">-</div>
<div class="c" style="left:397px;top:1468.8px;height:28.9px;line-height:28.9px">499.31</div>
<div class="c" style="left:700.5px;top:1468.8px;height:28.9px;line-height:28.9px">x</div>
<div class="c" style="left:-125.5px;top:1497.7px;height:36px;line-height:36px">38.28</div>
<div class="n" style="left:113px;top:1494.9px;height:43.6px;line-height:21.8px">Hydroxy-methoxy-methyl-formylflavanone<br>isomer</div>
<div class="c" style="left:241.5px;top:1497.7px;height:36px;line-height:36px">f</div>
<div class="c" style="left:312px;top:1497.7px;height:36px;line-height:36px">C<sub>18</sub>H<sub>16</sub>O<sub>5</sub></div>
<div class="c" style="left:397px;top:1497.7px;height:36px;line-height:36px">313.11</div>
<div class="c" style="left:607.9px;top:1497.7px;height:36px;line-height:36px">x</div>
<div class="c" style="left:-125.5px;top:1533.7px;height:33.2px;line-height:33.2px">38.59</div>
<div class="n" style="left:113px;top:1533.7px;height:33.2px;line-height:33.2px">dictamine</div>
<div class="c" style="left:241.5px;top:1533.7px;height:33.2px;line-height:33.2px">a</div>
<div class="c" style="left:312px;top:1533.7px;height:33.2px;line-height:33.2px">C<sub>12</sub>H<sub>9</sub>NO<sub>2</sub></div>
<div class="c" style="left:397px;top:1533.7px;height:33.2px;line-height:33.2px">200.52</div>
<div class="c" style="left:545.95px;top:1533.7px;height:33.2px;line-height:33.2px">x</div>
<div class="c" style="left:-125.5px;top:1566.9px;height:25px;line-height:25px">40.13</div>
<div class="n" style="left:113px;top:1566.9px;height:25px;line-height:25px">unknown</div>
<div class="c" style="left:241.5px;top:1566.9px;height:25px;line-height:25px">-</div>
<div class="c" style="left:397px;top:1566.9px;height:25px;line-height:25px">223.53</div>
<div class="c" style="left:700.5px;top:1566.9px;height:25px;line-height:25px">x</div>
<div class="c" style="left:-125.5px;top:1591.9px;height:29.6px;line-height:29.6px">42.34</div>
<div class="n" style="left:113px;top:1591.9px;height:29.6px;line-height:29.6px">nevadensin</div>
<div class="c" style="left:241.5px;top:1591.9px;height:29.6px;line-height:29.6px">f</div>
<div class="c" style="left:312px;top:1591.9px;height:29.6px;line-height:29.6px">C<sub>18</sub>H<sub>16</sub>O<sub>7</sub></div>
<div class="c" style="left:397px;top:1591.9px;height:29.6px;line-height:29.6px">345.35</div>
<div class="c" style="left:638.85px;top:1591.9px;height:29.6px;line-height:29.6px">x</div>
<div class="c" style="left:-125.5px;top:1621.5px;height:29.3px;line-height:29.3px">42.45</div>
<div class="n" style="left:113px;top:1621.5px;height:29.3px;line-height:29.3px">xenognosin B (or isomer)</div>
<div class="c" style="left:241.5px;top:1621.5px;height:29.3px;line-height:29.3px">f</div>
<div class="c" style="left:312px;top:1621.5px;height:29.3px;line-height:29.3px">C<sub>16</sub>H<sub>12</sub>O<sub>5</sub></div>
<div class="c" style="left:397px;top:1621.5px;height:29.3px;line-height:29.3px">285.31</div>
<div class="c" style="left:700.5px;top:1621.5px;height:29.3px;line-height:29.3px">x</div>
<div class="c" style="left:-125.5px;top:1650.8px;height:28.9px;line-height:28.9px">42.84</div>
<div class="n" style="left:113px;top:1650.8px;height:28.9px;line-height:28.9px">hydroxy-methoxy-methylflavone</div>
<div class="c" style="left:241.5px;top:1650.8px;height:28.9px;line-height:28.9px">f</div>
<div class="c" style="left:312px;top:1650.8px;height:28.9px;line-height:28.9px">C<sub>17</sub>H<sub>14</sub>O<sub>4</sub></div>
<div class="c" style="left:397px;top:1650.8px;height:28.9px;line-height:28.9px">283.12</div>
<div class="c" style="left:607.9px;top:1650.8px;height:28.9px;line-height:28.9px">x</div>
<div class="c" style="left:-125.5px;top:1679.7px;height:29.3px;line-height:29.3px">45.71</div>
<div class="n" style="left:113px;top:1679.7px;height:29.3px;line-height:29.3px">isowighteone</div>
<div class="c" style="left:241.5px;top:1679.7px;height:29.3px;line-height:29.3px">f</div>
<div class="c" style="left:312px;top:1679.7px;height:29.3px;line-height:29.3px">C<sub>20</sub>H<sub>18</sub>O<sub>5</sub></div>
<div class="c" style="left:397px;top:1679.7px;height:29.3px;line-height:29.3px">339.43</div>
<div class="c" style="left:669.65px;top:1679.7px;height:29.3px;line-height:29.3px">x</div>
<div class="c" style="left:-125.5px;top:1709px;height:28.7px;line-height:28.7px">46.18</div>
<div class="n" style="left:113px;top:1709px;height:28.7px;line-height:28.7px">tigloyldiderroside</div>
<div class="c" style="left:241.5px;top:1709px;height:28.7px;line-height:28.7px">a</div>
<div class="c" style="left:312px;top:1709px;height:28.7px;line-height:28.7px">C<sub>15</sub>H<sub>15</sub>NO<sub>3</sub></div>
<div class="c" style="left:397px;top:1709px;height:28.7px;line-height:28.7px">258.41</div>
<div class="c" style="left:545.95px;top:1709px;height:28.7px;line-height:28.7px">x</div>
<div class="c" style="left:-125.5px;top:1737.7px;height:29.3px;line-height:29.3px">48.25</div>
<div class="n" style="left:113px;top:1737.7px;height:29.3px;line-height:29.3px">homobutein</div>
<div class="c" style="left:241.5px;top:1737.7px;height:29.3px;line-height:29.3px">f</div>
<div class="c" style="left:312px;top:1737.7px;height:29.3px;line-height:29.3px">C<sub>16</sub>H<sub>14</sub>O</div>
<div class="c" style="left:397px;top:1737.7px;height:29.3px;line-height:29.3px">287.23</div>
<div class="c" style="left:638.85px;top:1737.7px;height:29.3px;line-height:29.3px">x</div>
<div class="c" style="left:-125.5px;top:1767px;height:29.6px;line-height:29.6px">49.20</div>
<div class="n" style="left:113px;top:1767px;height:29.6px;line-height:29.6px">abutiloside B</div>
<div class="c" style="left:241.5px;top:1767px;height:29.6px;line-height:29.6px">a</div>
<div class="c" style="left:312px;top:1767px;height:29.6px;line-height:29.6px">C<sub>46</sub>H<sub>77</sub>NO<sub>17</sub></div>
<div class="c" style="left:397px;top:1767px;height:29.6px;line-height:29.6px">914.21</div>
<div class="c" style="left:576.95px;top:1767px;height:29.6px;line-height:29.6px">x</div>
<div class="c" style="left:-125.5px;top:1796.6px;height:29.3px;line-height:29.3px">49.31</div>
<div class="n" style="left:113px;top:1796.6px;height:29.3px;line-height:29.3px">claussequinone-vestitol</div>
<div class="c" style="left:241.5px;top:1796.6px;height:29.3px;line-height:29.3px">f</div>
<div class="c" style="left:312px;top:1796.6px;height:29.3px;line-height:29.3px">C<sub>32</sub>H<sub>28</sub>O<sub>9</sub></div>
<div class="c" style="left:397px;top:1796.6px;height:29.3px;line-height:29.3px">555.22</div>
<div class="c" style="left:669.65px;top:1796.6px;height:29.3px;line-height:29.3px">x</div>
<div class="c" style="left:-125.5px;top:1825.9px;height:28.9px;line-height:28.9px">49.41</div>
<div class="n" style="left:113px;top:1825.9px;height:28.9px;line-height:28.9px">helianyl octanoate</div>
<div class="c" style="left:241.5px;top:1825.9px;height:28.9px;line-height:28.9px">tr</div>
<div class="c" style="left:312px;top:1825.9px;height:28.9px;line-height:28.9px">C<sub>38</sub>H<sub>66</sub>O<sub>2</sub></div>
<div class="c" style="left:397px;top:1825.9px;height:28.9px;line-height:28.9px">555.21</div>
<div class="c" style="left:638.85px;top:1825.9px;height:28.9px;line-height:28.9px">x</div>
<div class="c" style="left:-125.5px;top:1854.8px;height:29.6px;line-height:29.6px">49.47</div>
<div class="n" style="left:113px;top:1854.8px;height:29.6px;line-height:29.6px">methoxyflindersiamine (or isomer)</div>
<div class="c" style="left:241.5px;top:1854.8px;height:29.6px;line-height:29.6px">a</div>
<div class="c" style="left:312px;top:1854.8px;height:29.6px;line-height:29.6px">C<sub>14</sub>H<sub>11</sub>NO<sub>5</sub></div>
<div class="c" style="left:397px;top:1854.8px;height:29.6px;line-height:29.6px">274.43</div>
<div class="c" style="left:545.95px;top:1854.8px;height:29.6px;line-height:29.6px">x</div>
<div class="c" style="left:-125.5px;top:1884.4px;height:28.9px;line-height:28.9px">50.94</div>
<div class="n" style="left:113px;top:1884.4px;height:28.9px;line-height:28.9px">hymenoxin</div>
<div class="c" style="left:241.5px;top:1884.4px;height:28.9px;line-height:28.9px">f</div>
<div class="c" style="left:312px;top:1884.4px;height:28.9px;line-height:28.9px">C<sub>19</sub>H<sub>18</sub>O<sub>8</sub></div>
<div class="c" style="left:397px;top:1884.4px;height:28.9px;line-height:28.9px">373.14</div>
<div class="c" style="left:638.85px;top:1884.4px;height:28.9px;line-height:28.9px">x</div>
<div class="c" style="left:-125.5px;top:1913.3px;height:28.9px;line-height:28.9px">50.94</div>
<div class="n" style="left:113px;top:1913.3px;height:28.9px;line-height:28.9px">desmethyleucalyptin (or isomer)</div>
<div class="c" style="left:241.5px;top:1913.3px;height:28.9px;line-height:28.9px">f</div>
<div class="c" style="left:312px;top:1913.3px;height:28.9px;line-height:28.9px">C<sub>18</sub>H<sub>16</sub>O<sub>5</sub></div>
<div class="c" style="left:397px;top:1913.3px;height:28.9px;line-height:28.9px">313.11</div>
<div class="c" style="left:607.9px;top:1913.3px;height:28.9px;line-height:28.9px">x</div>
<div class="c" style="left:-125.5px;top:1942.2px;height:29.3px;line-height:29.3px">51.29</div>
<div class="n" style="left:113px;top:1942.2px;height:29.3px;line-height:29.3px">desmethyleucalyptin (or isomer)</div>
<div class="c" style="left:241.5px;top:1942.2px;height:29.3px;line-height:29.3px">f</div>
<div class="c" style="left:312px;top:1942.2px;height:29.3px;line-height:29.3px">C<sub>18</sub>H<sub>16</sub>O<sub>5</sub></div>
<div class="c" style="left:397px;top:1942.2px;height:29.3px;line-height:29.3px">313.11</div>
<div class="c" style="left:607.9px;top:1942.2px;height:29.3px;line-height:29.3px">x</div>
<div class="c" style="left:-125.5px;top:1971.5px;height:29.4px;line-height:29.4px">52.51</div>
<div class="n" style="left:113px;top:1971.5px;height:29.4px;line-height:29.4px">onogenin</div>
<div class="c" style="left:241.5px;top:1971.5px;height:29.4px;line-height:29.4px">f</div>
<div class="c" style="left:312px;top:1971.5px;height:29.4px;line-height:29.4px">C<sub>17</sub>H<sub>14</sub>O<sub>6</sub></div>
<div class="c" style="left:397px;top:1971.5px;height:29.4px;line-height:29.4px">315.51</div>
<div class="c" style="left:669.65px;top:1971.5px;height:29.4px;line-height:29.4px">x</div>
<div class="c" style="left:-125.5px;top:2000.9px;height:29.1px;line-height:29.1px">52.56</div>
<div class="n" style="left:113px;top:2000.9px;height:29.1px;line-height:29.1px">limonin</div>
<div class="c" style="left:241.5px;top:2000.9px;height:29.1px;line-height:29.1px">tr</div>
<div class="c" style="left:312px;top:2000.9px;height:29.1px;line-height:29.1px">C<sub>26</sub>H<sub>30</sub>O<sub>8</sub></div>
<div class="c" style="left:397px;top:2000.9px;height:29.1px;line-height:29.1px">471.22</div>
<div class="c" style="left:545.95px;top:2000.9px;height:29.1px;line-height:29.1px">x</div>
<div class="c" style="left:-125.5px;top:2030px;height:29.3px;line-height:29.3px">52.57</div>
<div class="n" style="left:113px;top:2030px;height:29.3px;line-height:29.3px">bisparasin (isomer)</div>
<div class="c" style="left:241.5px;top:2030px;height:29.3px;line-height:29.3px">p</div>
<div class="c" style="left:312px;top:2030px;height:29.3px;line-height:29.3px">C<sub>30</sub>H<sub>28</sub>O<sub>6</sub></div>
<div class="c" style="left:397px;top:2030px;height:29.3px;line-height:29.3px">485.25</div>
<div class="c" style="left:545.95px;top:2030px;height:29.3px;line-height:29.3px">x</div>
<div class="c" style="left:-125.5px;top:2059.3px;height:29.3px;line-height:29.3px">53.64</div>
<div class="n" style="left:113px;top:2059.3px;height:29.3px;line-height:29.3px">conycephaloide</div>
<div class="c" style="left:241.5px;top:2059.3px;height:29.3px;line-height:29.3px">t</div>
<div class="c" style="left:312px;top:2059.3px;height:29.3px;line-height:29.3px">C<sub>20</sub>H<sub>20</sub>O<sub>5</sub></div>
<div class="c" style="left:397px;top:2059.3px;height:29.3px;line-height:29.3px">339.23</div>
<div class="c" style="left:449px;top:2059.3px;height:29.3px;line-height:29.3px">x</div>
<div class="c" style="left:-125.5px;top:2088.6px;height:29px;line-height:29px">54.68</div>
<div class="n" style="left:113px;top:2088.6px;height:29px;line-height:29px">betulin</div>
<div class="c" style="left:241.5px;top:2088.6px;height:29px;line-height:29px">tr</div>
<div class="c" style="left:312px;top:2088.6px;height:29px;line-height:29px">C<sub>30</sub>H<sub>50</sub>O<sub>2</sub></div>
<div class="c" style="left:397px;top:2088.6px;height:29px;line-height:29px">443.71</div>
<div class="c" style="left:669.65px;top:2088.6px;height:29px;line-height:29px">x</div>
<div class="c" style="left:-125.5px;top:2117.6px;height:29px;line-height:29px">55.14</div>
<div class="n" style="left:113px;top:2117.6px;height:29px;line-height:29px">unknown</div>
<div class="c" style="left:241.5px;top:2117.6px;height:29px;line-height:29px">-</div>
<div class="c" style="left:397px;top:2117.6px;height:29px;line-height:29px">255.32</div>
<div class="c" style="left:733px;top:2117.6px;height:29px;line-height:29px">x</div>
<div class="c" style="left:-125.5px;top:2146.6px;height:29.3px;line-height:29.3px">55.53</div>
<div class="n" style="left:113px;top:2146.6px;height:29.3px;line-height:29.3px">artonin U</div>
<div class="c" style="left:241.5px;top:2146.6px;height:29.3px;line-height:29.3px">f</div>
<div class="c" style="left:312px;top:2146.6px;height:29.3px;line-height:29.3px">C<sub>20</sub>H<sub>20</sub>O<sub>5</sub></div>
<div class="c" style="left:397px;top:2146.6px;height:29.3px;line-height:29.3px">353.14</div>
<div class="c" style="left:607.9px;top:2146.6px;height:29.3px;line-height:29.3px">x</div>
<div class="c" style="left:-125.5px;top:2175.9px;height:29.4px;line-height:29.4px">55.58</div>
<div class="n" style="left:113px;top:2175.9px;height:29.4px;line-height:29.4px">unknown</div>
<div class="c" style="left:241.5px;top:2175.9px;height:29.4px;line-height:29.4px">-</div>
<div class="c" style="left:397px;top:2175.9px;height:29.4px;line-height:29.4px">893.33</div>
<div class="c" style="left:700.5px;top:2175.9px;height:29.4px;line-height:29.4px">x</div>
<div class="c" style="left:-125.5px;top:2205.3px;height:29.1px;line-height:29.1px">56.13</div>
<div class="n" style="left:113px;top:2205.3px;height:29.1px;line-height:29.1px">xenognosin B (or isomer)</div>
<div class="c" style="left:241.5px;top:2205.3px;height:29.1px;line-height:29.1px">f</div>
<div class="c" style="left:312px;top:2205.3px;height:29.1px;line-height:29.1px">C<sub>16</sub>H<sub>12</sub>O<sub>5</sub></div>
<div class="c" style="left:397px;top:2205.3px;height:29.1px;line-height:29.1px">284.06</div>
<div class="c" style="left:700.5px;top:2205.3px;height:29.1px;line-height:29.1px">x</div>
<div class="c" style="left:-125.5px;top:2234.4px;height:28.9px;line-height:28.9px">56.81</div>
<div class="n" style="left:113px;top:2234.4px;height:28.9px;line-height:28.9px">daidzein (or isomer)</div>
<div class="c" style="left:241.5px;top:2234.4px;height:28.9px;line-height:28.9px">f</div>
<div class="c" style="left:312px;top:2234.4px;height:28.9px;line-height:28.9px">C<sub>15</sub>H<sub>10</sub>O</div>
<div class="c" style="left:397px;top:2234.4px;height:28.9px;line-height:28.9px">255.41</div>
<div class="c" style="left:669.65px;top:2234.4px;height:28.9px;line-height:28.9px">x</div>
<div class="c" style="left:-125.5px;top:2263.3px;height:29.3px;line-height:29.3px">57.63</div>
<div class="n" style="left:113px;top:2263.3px;height:29.3px;line-height:29.3px">hydroxysolasodine</div>
<div class="c" style="left:241.5px;top:2263.3px;height:29.3px;line-height:29.3px">a</div>
<div class="c" style="left:312px;top:2263.3px;height:29.3px;line-height:29.3px">C<sub>27</sub>H<sub>45</sub>NO<sub>3</sub></div>
<div class="c" style="left:397px;top:2263.3px;height:29.3px;line-height:29.3px">430.33</div>
<div class="c" style="left:607.9px;top:2263.3px;height:29.3px;line-height:29.3px">x</div>
<div class="c" style="left:-125.5px;top:2292.6px;height:29px;line-height:29px">57.72</div>
<div class="n" style="left:113px;top:2292.6px;height:29px;line-height:29px">juruenolide E</div>
<div class="c" style="left:241.5px;top:2292.6px;height:29px;line-height:29px">p</div>
<div class="c" style="left:312px;top:2292.6px;height:29px;line-height:29px">C<sub>23</sub>H<sub>34</sub>O<sub>5</sub></div>
<div class="c" style="left:397px;top:2292.6px;height:29px;line-height:29px">391.42</div>
<div class="c" style="left:700.5px;top:2292.6px;height:29px;line-height:29px">x</div>
<div class="c" style="left:-125.5px;top:2321.6px;height:28.9px;line-height:28.9px">58.24</div>
<div class="n" style="left:113px;top:2321.6px;height:28.9px;line-height:28.9px">formononetin</div>
<div class="c" style="left:241.5px;top:2321.6px;height:28.9px;line-height:28.9px">f</div>
<div class="c" style="left:312px;top:2321.6px;height:28.9px;line-height:28.9px">C<sub>16</sub>H<sub>12</sub>O<sub>4</sub></div>
<div class="c" style="left:397px;top:2321.6px;height:28.9px;line-height:28.9px">269.25</div>
<div class="c" style="left:700.5px;top:2321.6px;height:28.9px;line-height:28.9px">x</div>
<div class="c" style="left:-125.5px;top:2350.5px;height:28.9px;line-height:28.9px">60.84</div>
<div class="n" style="left:113px;top:2350.5px;height:28.9px;line-height:28.9px">verrucosin</div>
<div class="c" style="left:241.5px;top:2350.5px;height:28.9px;line-height:28.9px">P</div>
<div class="c" style="left:312px;top:2350.5px;height:28.9px;line-height:28.9px">C<sub>20</sub>H<sub>24</sub>O<sub>5</sub></div>
<div class="c" style="left:397px;top:2350.5px;height:28.9px;line-height:28.9px">344.09</div>
<div class="c" style="left:733px;top:2350.5px;height:28.9px;line-height:28.9px">x</div>
<div class="c" style="left:-125.5px;top:2379.4px;height:29.5px;line-height:29.5px">60.86</div>
<div class="n" style="left:113px;top:2379.4px;height:29.5px;line-height:29.5px">solasodine</div>
<div class="c" style="left:241.5px;top:2379.4px;height:29.5px;line-height:29.5px">a</div>
<div class="c" style="left:312px;top:2379.4px;height:29.5px;line-height:29.5px">C<sub>27</sub>H<sub>43</sub>NO</div>
<div class="c" style="left:397px;top:2379.4px;height:29.5px;line-height:29.5px">398.34</div>
<div class="c" style="left:607.9px;top:2379.4px;height:29.5px;line-height:29.5px">x</div>
<div class="c" style="left:-125.5px;top:2408.9px;height:29.4px;line-height:29.4px">60.87</div>
<div class="n" style="left:113px;top:2408.9px;height:29.4px;line-height:29.4px">ichangensin</div>
<div class="c" style="left:241.5px;top:2408.9px;height:29.4px;line-height:29.4px">tr</div>
<div class="c" style="left:312px;top:2408.9px;height:29.4px;line-height:29.4px">C<sub>25</sub>H<sub>32</sub>O<sub>7</sub></div>
<div class="c" style="left:397px;top:2408.9px;height:29.4px;line-height:29.4px">445.28</div>
<div class="c" style="left:545.95px;top:2408.9px;height:29.4px;line-height:29.4px">x</div>
<div class="c" style="left:-125.5px;top:2438.3px;height:32.7px;line-height:32.7px">60.91</div>
<div class="n" style="left:113px;top:2438.3px;height:32.7px;line-height:32.7px">dihydro-(hydroxyphenyl)-pyranocatechinone</div>
<div class="c" style="left:241.5px;top:2438.3px;height:32.7px;line-height:32.7px">f</div>
<div class="c" style="left:312px;top:2438.3px;height:32.7px;line-height:32.7px">C<sub>24</sub>H<sub>20</sub>O<sub>8</sub></div>
<div class="c" style="left:397px;top:2438.3px;height:32.7px;line-height:32.7px">436.16</div>
<div class="c" style="left:514.9px;top:2438.3px;height:32.7px;line-height:32.7px">x</div>
<div class="c" style="left:-125.5px;top:2471px;height:35.4px;line-height:35.4px">60.93</div>
<div class="n" style="left:113px;top:2467.9px;height:43.6px;line-height:21.8px">methyl-[tetrahydromethylbutadienyl)<br>methylene-oxofuranyl]-butenal (or isomers)</div>
<div class="c" style="left:241.5px;top:2471px;height:35.4px;line-height:35.4px">t</div>
<div class="c" style="left:312px;top:2471px;height:35.4px;line-height:35.4px">C<sub>15</sub>H<sub>18</sub>O<sub>3</sub></div>
<div class="c" style="left:397px;top:2471px;height:35.4px;line-height:35.4px">247.44</div>
<div class="c" style="left:638.85px;top:2471px;height:35.4px;line-height:35.4px">x</div>
<div class="c" style="left:-125.5px;top:2506.4px;height:29.7px;line-height:29.7px">60.94</div>
<div class="n" style="left:113px;top:2506.4px;height:29.7px;line-height:29.7px">geranyllinalololide (or isomers)</div>
<div class="c" style="left:241.5px;top:2506.4px;height:29.7px;line-height:29.7px">t</div>
<div class="c" style="left:312px;top:2506.4px;height:29.7px;line-height:29.7px">C<sub>20</sub>H<sub>30</sub>O<sub>3</sub></div>
<div class="c" style="left:397px;top:2506.4px;height:29.7px;line-height:29.7px">319.55</div>
<div class="c" style="left:449px;top:2506.4px;height:29.7px;line-height:29.7px">x</div>
<div class="c" style="left:-175px;top:81.1px;height:66.9px;line-height:66.9px">1</div>
<div class="c b" style="left:-175px;top:146.7px;height:175.1px;line-height:175.1px">2</div>
<div class="c b" style="left:-175px;top:321.8px;height:29.3px;line-height:29.3px">3</div>
<div class="c b" style="left:-175px;top:351.1px;height:36px;line-height:36px">4</div>
<div class="c b" style="left:-175px;top:387.1px;height:28.9px;line-height:28.9px">5</div>
<div class="c b" style="left:-175px;top:416px;height:29px;line-height:29px">6</div>
<div class="c b" style="left:-175px;top:445px;height:29.3px;line-height:29.3px">7</div>
<div class="c b" style="left:-175px;top:474.3px;height:28.9px;line-height:28.9px">8</div>
<div class="c b" style="left:-175px;top:503.2px;height:88px;line-height:88px">9</div>
<div class="c b" style="left:-175px;top:591.2px;height:28.9px;line-height:28.9px">10</div>
<div class="c b" style="left:-175px;top:620.1px;height:29.3px;line-height:29.3px">11</div>
<div class="c b" style="left:-175px;top:649.4px;height:58.5px;line-height:58.5px">12</div>
<div class="c b" style="left:-175px;top:707.9px;height:58.2px;line-height:58.2px">13</div>
<div class="c b" style="left:-175px;top:766.1px;height:116.9px;line-height:116.9px">14</div>
<div class="c b" style="left:-175px;top:883px;height:28.7px;line-height:28.7px">15</div>
<div class="c b" style="left:-175px;top:911.7px;height:117.3px;line-height:117.3px">16</div>
<div class="c b" style="left:-175px;top:1029px;height:28.9px;line-height:28.9px">17</div>
<div class="c b" style="left:-175px;top:1057.9px;height:29.4px;line-height:29.4px">18</div>
<div class="c b" style="left:-175px;top:1087.3px;height:29.3px;line-height:29.3px">19</div>
<div class="c b" style="left:-175px;top:1116.6px;height:60.2px;line-height:60.2px">20</div>
<div class="c b" style="left:-175px;top:1176.8px;height:58.7px;line-height:58.7px">21</div>
<div class="c b" style="left:-175px;top:1235.5px;height:87.3px;line-height:87.3px">22</div>
<div class="c b" style="left:-175px;top:1322.8px;height:58.2px;line-height:58.2px">23</div>
<div class="c b" style="left:-175px;top:1381px;height:87.8px;line-height:87.8px">24</div>
<div class="c b" style="left:-175px;top:1468.8px;height:28.9px;line-height:28.9px">25</div>
<div class="c b" style="left:-175px;top:1497.7px;height:69.2px;line-height:69.2px">26</div>
<div class="c b" style="left:-175px;top:1566.9px;height:25px;line-height:25px">27</div>
<div class="c b" style="left:-175px;top:1591.9px;height:87.8px;line-height:87.8px">28</div>
<div class="c b" style="left:-175px;top:1679.7px;height:29.3px;line-height:29.3px">29</div>
<div class="c b" style="left:-175px;top:1709px;height:28.7px;line-height:28.7px">30</div>
<div class="c b" style="left:-175px;top:1737.7px;height:29.3px;line-height:29.3px">31</div>
<div class="c b" style="left:-175px;top:1767px;height:117.4px;line-height:117.4px">32</div>
<div class="c b" style="left:-175px;top:1884.4px;height:57.8px;line-height:57.8px">33</div>
<div class="c b" style="left:-175px;top:1942.2px;height:29.3px;line-height:29.3px">34</div>
<div class="c b" style="left:-175px;top:1971.5px;height:87.8px;line-height:87.8px">35</div>
<div class="c b" style="left:-175px;top:2059.3px;height:29.3px;line-height:29.3px">36</div>
<div class="c b" style="left:-175px;top:2088.6px;height:29px;line-height:29px">37</div>
<div class="c b" style="left:-175px;top:2117.6px;height:87.7px;line-height:87.7px">38</div>
<div class="c b" style="left:-175px;top:2205.3px;height:58px;line-height:58px">39</div>
<div class="c b" style="left:-175px;top:2263.3px;height:58.3px;line-height:58.3px">40</div>
<div class="c b" style="left:-175px;top:2321.6px;height:28.9px;line-height:28.9px">41</div>
<div class="c b" style="left:-175px;top:2350.5px;height:185.6px;line-height:185.6px">42</div>
<div class="fn">
<div class="j"><sup>a</sup>Numbering according to detection order showed in Figure 1; <sup>b</sup>Ct = Compound type: flavonoid (f), phenolics (p), alkaloid (a), terpenoid (t),</div>
<div class="j">triterpene (tr); <sup>c</sup>Compound distribution among test plant-derived extracts: <b>1</b>= <i>Baccharis latiflolia</i> (Bl), <b>2</b>= <i>Genista monspessulana</i> (Gm), <b>3</b>=</div>
<div class="j"><i>Nectandra amazonun</i> (Na), <b>4</b>= <i>Galipea trifoliata</i> (Gt), <b>5</b>= <i>Solanum nigrum</i> 1 <i>(</i>Sn1), <b>6</b>= <i>Solanum nigrum</i> 2 <i>(</i>Sn2), <b>7</b>= <i>Tithonia diversifolia</i> (Td),</div>
<div class="e"><b><i>8</i></b>= <i>Ulex europaeus</i> (Ue), <b>9</b>= <i>Virola elongata</i> (Ve). <b>10</b>= <i>Virola Peruviana</i> (Vp).</div>
</div>
</body></html>
